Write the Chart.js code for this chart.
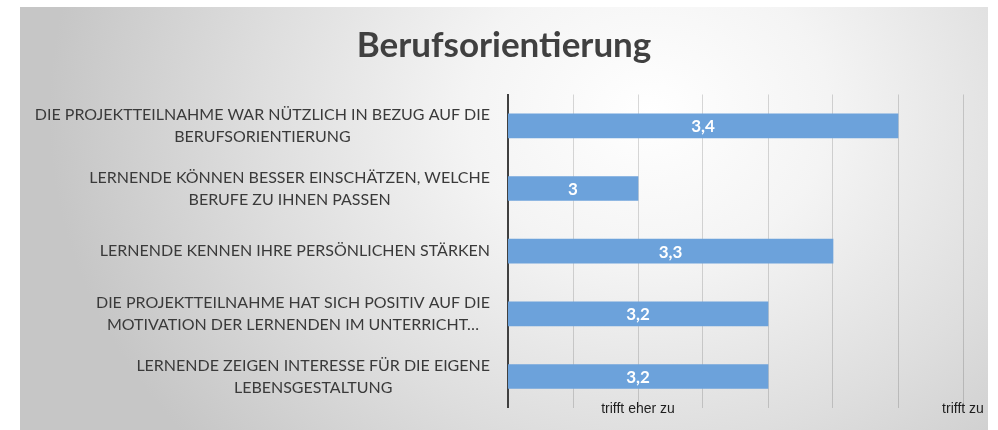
<!DOCTYPE html>
<html>
<head>
<meta charset="utf-8">
<script src="https://cdn.jsdelivr.net/npm/chart.js@4"></script>
<style>
  html, body { margin: 0; padding: 0; background: #ffffff; width: 998px; height: 430px; overflow: hidden; }
  #wrap {
    position: absolute; left: 20px; top: 7px; width: 968px; height: 423px;
    background: radial-gradient(ellipse 62% 120% at 65% 25%, #ffffff 0%, #f4f4f4 30%, #dedede 65%, #c6c6c6 100%);
  }
  canvas { display: block; }
</style>
</head>
<body>
<div id="wrap"><canvas id="chart"></canvas></div>
<script>
const title = 'Berufsorientierung';
const categories = [
  ['DIE PROJEKTTEILNAHME WAR NÜTZLICH IN BEZUG AUF DIE', 'BERUFSORIENTIERUNG'],
  ['LERNENDE KÖNNEN BESSER EINSCHÄTZEN, WELCHE', 'BERUFE ZU IHNEN PASSEN'],
  ['LERNENDE KENNEN IHRE PERSÖNLICHEN STÄRKEN'],
  ['DIE PROJEKTTEILNAHME HAT SICH POSITIV AUF DIE', 'MOTIVATION DER LERNENDEN IM UNTERRICHT…'],
  ['LERNENDE ZEIGEN INTERESSE FÜR DIE EIGENE', 'LEBENSGESTALTUNG']
];
const values = [3.4, 3.0, 3.3, 3.2, 3.2];
const tickValues = [3.0, 3.5];
const tickLabels = ['trifft eher zu', 'trifft zu'];
const axisMin = 2.8;
const axisMax = 3.5;
const axisStep = 0.1;

const labelFont = '16px Lato';
const labelColor = '#3a3a3a';

const categoryLabelPlugin = {
  id: 'categoryLabels',
  afterDraw(chart) {
    const scale = chart.scales.y;
    const ctx = chart.ctx;
    ctx.save();
    ctx.font = labelFont;
    ctx.fillStyle = labelColor;
    ctx.textAlign = 'center';
    ctx.textBaseline = 'middle';
    const rightEdge = scale.right - 18;
    const lh = 22;
    categories.forEach((lines, i) => {
      const y = scale.getPixelForTick(i);
      const w = Math.max(...lines.map(l => ctx.measureText(l).width));
      const cx = rightEdge - w / 2;
      lines.forEach((l, j) => {
        ctx.fillText(l, cx, y + (j - (lines.length - 1) / 2) * lh);
      });
    });
    // value-axis labels (drawn here so they may overlap the plot edge like the original)
    const xs = chart.scales.x;
    ctx.font = '14px "Liberation Sans"';
    ctx.fillStyle = '#1e1e1e';
    ctx.textBaseline = 'alphabetic';
    ctx.textAlign = 'center';
    tickValues.forEach((v, k) => {
      ctx.fillText(tickLabels[k], xs.getPixelForValue(v), chart.chartArea.bottom + 5);
    });
    ctx.restore();
  }
};

const valueLabelPlugin = {
  id: 'valueLabels',
  afterDatasetsDraw(chart) {
    const ctx = chart.ctx;
    const meta = chart.getDatasetMeta(0);
    const xs = chart.scales.x;
    const left = xs.getPixelForValue(axisMin);
    ctx.save();
    ctx.font = 'bold 17px Lato';
    ctx.fillStyle = '#ffffff';
    ctx.textAlign = 'center';
    ctx.textBaseline = 'middle';
    meta.data.forEach((bar, i) => {
      const right = xs.getPixelForValue(values[i]);
      const txt = String(values[i]).replace('.', ',');
      ctx.fillText(txt, (right + left) / 2, bar.y + 1);
    });
    ctx.restore();
  }
};

new Chart(document.getElementById('chart'), {
  type: 'bar',
  data: {
    labels: categories,
    datasets: [{
      data: values,
      backgroundColor: '#6ca2db',
      borderWidth: 0,
      barThickness: 24
    }]
  },
  options: {
    indexAxis: 'y',
    responsive: true,
    maintainAspectRatio: false,
    animation: false,
    layout: { padding: 0 },
    plugins: {
      legend: { display: false },
      tooltip: { enabled: false },
      title: {
        display: true,
        text: title,
        color: '#404040',
        font: { family: 'Lato', size: 35, weight: 'bold' },
        padding: { top: 17.5, bottom: 28 }
      }
    },
    scales: {
      x: {
        type: 'linear',
        min: axisMin,
        max: axisMax,
        border: { display: false },
        grid: { color: 'rgba(0,0,0,0.15)', lineWidth: 1, drawTicks: false },
        ticks: {
          stepSize: axisStep,
          autoSkip: false,
          maxRotation: 0,
          color: 'rgba(0,0,0,0)',
          font: { family: 'Liberation Sans', size: 14 },
          callback: (v) => {
            const k = tickValues.findIndex(t => Math.abs(t - v) < 1e-6);
            return k >= 0 ? tickLabels[k] : '';
          }
        },
        afterFit: (s) => { s.height = 20; s.paddingRight = 25; s.paddingLeft = 0; }
      },
      y: {
        grid: { display: false, drawTicks: false },
        border: { display: true, color: '#404040', width: 2 },
        ticks: { color: 'rgba(0,0,0,0)', font: { family: 'Lato', size: 16 } },
        afterFit: (s) => { s.width = 488; }
      }
    }
  },
  plugins: [categoryLabelPlugin, valueLabelPlugin]
});
</script>
</body>
</html>
